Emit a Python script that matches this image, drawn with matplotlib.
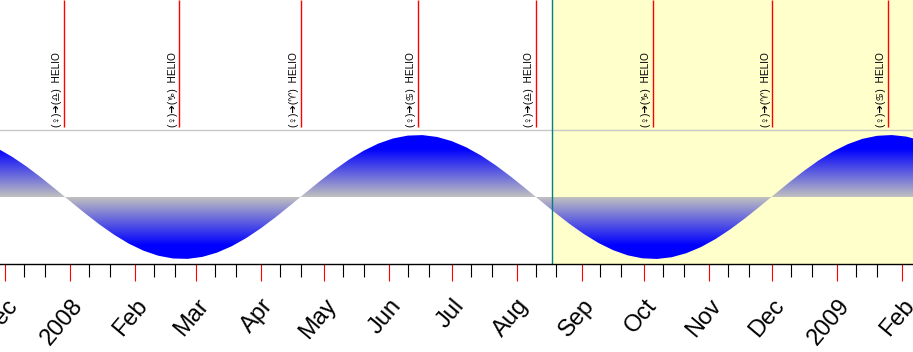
import matplotlib.pyplot as plt
import matplotlib.dates as mdates
import matplotlib.colors as mcolors
import numpy as np
import pandas as pd

# ---------- Data ----------
sample_dates = [
    "2007-11-27", "2007-12-04", "2007-12-11", "2007-12-18", "2007-12-25",
    "2008-01-01", "2008-01-08", "2008-01-15", "2008-01-22", "2008-01-29",
    "2008-02-05", "2008-02-12", "2008-02-19", "2008-02-26", "2008-03-04",
    "2008-03-11", "2008-03-18", "2008-03-25", "2008-04-01", "2008-04-08",
    "2008-04-15", "2008-04-22", "2008-04-29", "2008-05-06", "2008-05-13",
    "2008-05-20", "2008-05-27", "2008-06-03", "2008-06-10", "2008-06-17",
    "2008-06-24", "2008-07-01", "2008-07-08", "2008-07-15", "2008-07-22",
    "2008-07-29", "2008-08-05", "2008-08-12", "2008-08-19", "2008-08-26",
    "2008-09-02", "2008-09-09", "2008-09-16", "2008-09-23", "2008-09-30",
    "2008-10-07", "2008-10-14", "2008-10-21", "2008-10-28", "2008-11-04",
    "2008-11-11", "2008-11-18", "2008-11-25", "2008-12-02", "2008-12-09",
    "2008-12-16", "2008-12-23", "2008-12-30", "2009-01-06", "2009-01-13",
    "2009-01-20", "2009-01-27", "2009-02-03", "2009-02-10",
]
latitude = [
    2.673, 2.217, 1.677, 1.071, 0.425,
    -0.237, -0.890, -1.509, -2.071, -2.554,
    -2.939, -3.211, -3.361, -3.383, -3.275,
    -3.043, -2.693, -2.242, -1.705, -1.102,
    -0.458, 0.204, 0.858, 1.480, 2.045,
    2.531, 2.922, 3.200, 3.357, 3.385,
    3.284, 3.057, 2.714, 2.268, 1.734,
    1.134, 0.491, -0.171, -0.826, -1.450,
    -2.018, -2.510, -2.905, -3.190, -3.352,
    -3.387, -3.293, -3.072, -2.734, -2.292,
    -1.763, -1.166, -0.524, 0.137, 0.794,
    1.419, 1.993, 2.488, 2.888, 3.179,
    3.346, 3.388, 3.302, 3.087,
]

event_dates = ["2007-12-29", "2008-02-22", "2008-04-20", "2008-06-15",
               "2008-08-10", "2008-10-05", "2008-12-01", "2009-01-25"]
event_signs = ["\u264e", "\u2651", "\u2648", "\u264b",
               "\u264e", "\u2651", "\u2648", "\u264b"]
today = "2008-08-18"

month_ticks = ["2007-12-01", "2008-01-01", "2008-02-01", "2008-03-01",
               "2008-04-01", "2008-05-01", "2008-06-01", "2008-07-01",
               "2008-08-01", "2008-09-01", "2008-10-01", "2008-11-01",
               "2008-12-01", "2009-01-01", "2009-02-01"]
month_labels = ["Dec", "2008", "Feb", "Mar", "Apr", "May", "Jun", "Jul",
                "Aug", "Sep", "Oct", "Nov", "Dec", "2009", "Feb"]

# ---------- Figure ----------
fig = plt.figure(figsize=(9.13, 3.52), dpi=100)
ax = fig.add_axes([0, 88 / 352, 1, 264 / 352])

x = mdates.date2num(pd.to_datetime(sample_dates))
y = np.array(latitude)
amp = 3.39
px_per_deg = 62 / amp
y_bottom = -67 / px_per_deg
y_top = 197 / px_per_deg
y_sep = 67 / px_per_deg

jan1 = mdates.date2num(pd.Timestamp("2008-01-01"))
x_left, x_right = jan1 - 33.55, jan1 + 402.14
ax.set_xlim(x_left, x_right)
ax.set_ylim(y_bottom, y_top)

# ---------- Background: "future" shading ----------
t_today = mdates.date2num(pd.Timestamp(today))
ax.axvspan(t_today, x_right, color="#ffffcc", zorder=0)
ax.axvline(t_today, color="#008080", linewidth=1.0, zorder=5)
ax.axhline(y_sep, color="#c8c8c8", linewidth=1.0, zorder=2)

# ---------- Gradient filled latitude curve ----------
poly = ax.fill_between(x, 0, y, facecolor="none", edgecolor="none")
grad_cmap = mcolors.LinearSegmentedColormap.from_list(
    "lat", [(0.0, "#c0c0c0"), (0.78, "#0000ff"), (1.0, "#0000ff")])
rows = np.abs(np.linspace(-amp, amp, 400))[:, None]
im = ax.imshow(rows, extent=[x_left, x_right, -amp, amp], origin="lower",
               aspect="auto", cmap=grad_cmap, vmin=0, vmax=amp, zorder=3,
               interpolation="bilinear")
im.set_clip_path(poly.get_paths()[0], transform=ax.transData)

# ---------- Events ----------
ev_x = mdates.date2num(pd.to_datetime(event_dates))
line_bottom = (197 - 127) / px_per_deg
ax.vlines(ev_x, line_bottom, y_top, color="red", linewidth=1.0, zorder=4)
for ex, sign in zip(ev_x, event_signs):
    ax.annotate("(\u2640)\u2794(" + sign + ")  HELIO", xy=(ex, line_bottom),
                xytext=(-1.2, 0), textcoords="offset points",
                rotation=90, ha="right", va="bottom", fontsize=7.3,
                family=["Liberation Sans", "DejaVu Sans"], zorder=6)

# ---------- Axis ----------
for side in ["left", "right", "top"]:
    ax.spines[side].set_visible(False)
ax.spines["bottom"].set_color("black")
ax.spines["bottom"].set_linewidth(1.0)
ax.spines["bottom"].set_zorder(7)
ax.set_yticks([])

ax.set_xticks(mdates.date2num(pd.to_datetime(month_ticks)))
ax.set_xticklabels(month_labels, rotation=50, ha="right", va="top",
                   rotation_mode="anchor", fontsize=17,
                   family=["Liberation Sans", "DejaVu Sans"])
ax.xaxis.set_minor_locator(mdates.DayLocator(bymonthday=[10, 20]))
ax.tick_params(axis="x", which="major", color="red", length=12.2,
               width=0.8, pad=10)
ax.tick_params(axis="x", which="minor", color="black", length=9.4,
               width=0.8)

plt.savefig("out.png", dpi=100)
